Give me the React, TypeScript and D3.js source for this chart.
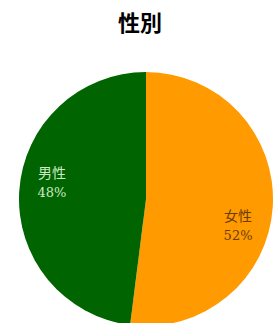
import { useEffect, useRef } from "react";
import * as d3 from "d3";

const categories = ["女性", "男性"];
const values = [52, 48];
const colors = ["#FF9A00", "#006400"];
const labelColors = ["#6b3c00", "#cdeac4"];
const title = "性別";

export default function App() {
  const ref = useRef<SVGSVGElement>(null);

  useEffect(() => {
    if (!ref.current) return;
    const svg = d3.select(ref.current);
    svg.selectAll("*").remove();

    const W = 273;
    const H = 323;
    const cx = 146;
    const cy = 199;
    const R = 127;

    svg.attr("width", W).attr("height", H);

    // title
    svg
      .append("text")
      .attr("x", 140)
      .attr("y", 31)
      .attr("text-anchor", "middle")
      .attr("font-size", 22)
      .attr("font-weight", "bold")
      .attr("font-family", "'Noto Sans CJK JP', sans-serif")
      .attr("fill", "#000")
      .text(title);

    const data = categories.map((c, i) => ({ c, v: values[i], i }));
    const pie = d3
      .pie<{ c: string; v: number; i: number }>()
      .value((d) => d.v)
      .sort(null);
    const arcs = pie(data);
    const arc = d3
      .arc<d3.PieArcDatum<{ c: string; v: number; i: number }>>()
      .innerRadius(0)
      .outerRadius(R);
    const labelArc = d3
      .arc<d3.PieArcDatum<{ c: string; v: number; i: number }>>()
      .innerRadius(R * 0.75)
      .outerRadius(R * 0.75);

    const g = svg.append("g").attr("transform", `translate(${cx},${cy})`);

    g.selectAll("path")
      .data(arcs)
      .join("path")
      .attr("d", arc)
      .attr("fill", (d) => colors[d.data.i]);

    // labels (nudged like the original)
    const nudge = [
      [-3, 20],
      [1, -11],
    ];
    const lab = g
      .selectAll("g.lab")
      .data(arcs)
      .join("g")
      .attr("class", "lab")
      .attr("transform", (d) => {
        const [x, y] = labelArc.centroid(d);
        const n = nudge[d.data.i];
        return `translate(${x + n[0]},${y + n[1]})`;
      });
    lab
      .append("text")
      .attr("text-anchor", "middle")
      .attr("y", -4)
      .attr("font-size", 14)
      .attr("font-family", "'Noto Sans CJK JP', sans-serif")
      .attr("fill", (d) => labelColors[d.data.i])
      .text((d) => d.data.c);
    lab
      .append("text")
      .attr("text-anchor", "middle")
      .attr("y", 15)
      .attr("font-size", 13)
      .attr("font-family", "'DejaVu Serif', serif")
      .attr("fill", (d) => labelColors[d.data.i])
      .text((d) => `${d.data.v}%`);
  }, []);

  return (
    <svg
      ref={ref}
      style={{ position: "absolute", left: 0, top: 0, background: "#fff" }}
    />
  );
}
